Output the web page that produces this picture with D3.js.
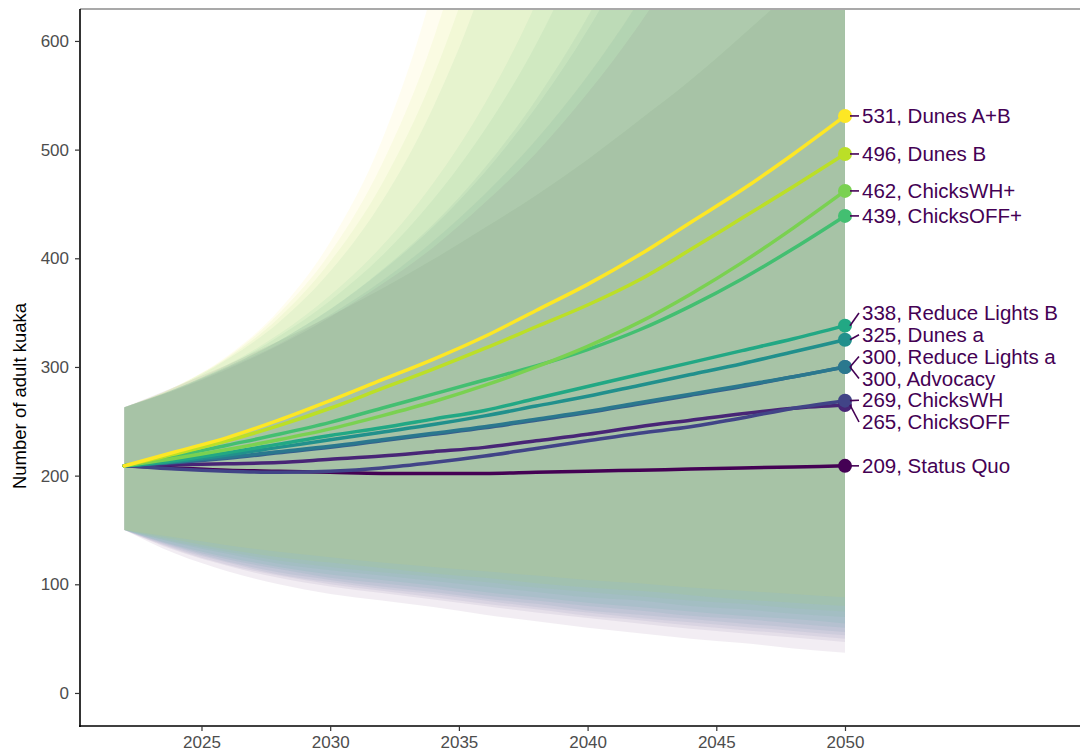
<!DOCTYPE html>
<html><head><meta charset="utf-8">
<script src="https://cdn.jsdelivr.net/npm/d3@7"></script>
<style>body{margin:0;background:#fff} svg{display:block} text{font-family:"Liberation Sans",Arial,Helvetica,sans-serif}</style>
</head><body><svg id="c" width="1080" height="755"></svg>
<script>
// ---- data ----
const years = [2022,2024,2026,2028,2030,2032,2034,2036,2038,2040,2042,2044,2046,2048,2050];
const scenarios = ["Status Quo","ChicksOFF","ChicksWH","Advocacy","Reduce Lights a","Dunes a","Reduce Lights B","ChicksOFF+","ChicksWH+","Dunes B","Dunes A+B"];
const colors = ["#440154","#482576","#414487","#35608D","#2A788E","#21908C","#22A884","#43BF71","#7AD151","#BBDF27","#FDE725"];

// median trajectories
const sqMed   = [209,207,205,204,203,202,202,202,203,204,205,206,207,208,209];
const offMed  = [209,210,211,212,215,218,222,226,232,238,245,251,257,262,265];
const whMed   = [209,206,204,203,204,207,212,218,225,232,239,245,253,262,269];
const advMed  = [209,212,216,221,226,232,238,244,251,258,266,274,282,291,300];
const rlaMed  = [209,213,217,222,227,233,239,245,252,259,267,275,283,291,300];
const daMed   = [209,213,219,226,233,240,247,255,264,273,283,293,303,314,325];
const rlbMed  = [209,214,221,229,237,244,252,260,271,282,293,304,315,326,338];
const offpMed = [209,218,228,238,249,262,275,288,301,316,334,356,381,409,439];
const whpMed  = [209,216,224,233,243,255,268,283,300,319,341,367,396,428,462];
const dbMed   = [209,220,232,246,262,280,298,317,337,357,380,408,437,466,496];
const abMed   = [209,222,235,251,269,288,307,328,352,376,403,433,463,496,531];

// lower bounds
const sqLo   = [150,128,112,100,91,85,79,72,66,60,55,50,46,41,37];
const offLo  = [150,131,117,106,98,92,86,80,74,69,64,59,55,51,47];
const whLo   = [150,132,118,108,100,94,88,82,77,71,67,62,58,54,50];
const advLo  = [150,133,120,109,102,96,91,85,79,74,69,65,61,57,53];
const rlaLo  = [150,134,121,111,104,98,93,87,82,76,72,68,64,60,56];
const daLo   = [150,135,123,114,106,101,96,90,85,80,76,71,68,64,60];
const rlbLo  = [150,136,125,116,109,104,99,93,88,83,79,75,71,68,64];
const offpLo = [150,138,128,119,113,108,103,98,93,88,85,80,77,73,70];
const whpLo  = [150,139,130,122,116,111,107,102,97,93,89,85,82,78,75];
const dbLo   = [150,141,132,125,120,115,110,106,101,97,94,90,86,83,80];
const abLo   = [150,143,136,130,125,120,116,112,108,104,101,97,94,91,88];

// upper bounds
const sqHi   = [263,282,302,324,347,372,399,428,458,491,527,564,605,648,695];
const offHi  = [263,279,298,320,346,376,410,451,497,552,615,688,773,870,980];
const whHi   = [263,279,299,321,348,379,416,459,509,568,637,719,814,930,1060];
const advHi  = [263,280,300,324,353,388,429,479,539,610,695,797,920,1060,1230];
const rlaHi  = [263,280,300,324,353,389,431,483,546,622,713,824,960,1120,1310];
const daHi   = [263,280,301,328,361,402,454,518,597,697,821,980,1180,1420,1720];
const rlbHi  = [263,280,302,330,366,411,469,542,635,753,903,1100,1350,1650,2000];
const offpHi = [263,281,307,341,388,452,539,657,819,1050,1350,1750,2250,2900,3700];
const whpHi  = [263,282,308,345,397,468,567,705,896,1150,1500,2000,2600,3400,4500];
const dbHi   = [263,282,309,349,405,486,601,767,1004,1350,1850,2500,3400,4600,6200];
const abHi   = [263,282,310,352,415,508,649,857,1169,1600,2300,3300,4800,7000,10000];

const yTicks = [0,100,200,300,400,500,600];
const xTicks = [2025,2030,2035,2040,2045,2050];

const meds = [sqMed,offMed,whMed,advMed,rlaMed,daMed,rlbMed,offpMed,whpMed,dbMed,abMed];
const los  = [sqLo,offLo,whLo,advLo,rlaLo,daLo,rlbLo,offpLo,whpLo,dbLo,abLo];
const his  = [sqHi,offHi,whHi,advHi,rlaHi,daHi,rlbHi,offpHi,whpHi,dbHi,abHi];

const series = scenarios.map((name,i)=>({
  name, color: colors[i],
  pts: years.map((yr,j)=>({year:yr, med:meds[i][j], lo:los[i][j], hi:his[i][j]}))
}));

// ---- layout ----
const svg = d3.select("#c");
const x = d3.scaleLinear().domain([2020.28, 2059.13]).range([80,1080]);
const y = d3.scaleLinear().domain([-30.4, 629.4]).range([726, 9]);

svg.append("defs").append("clipPath").attr("id","clip")
  .append("rect").attr("x",80).attr("y",9).attr("width",1000).attr("height",717);

const plot = svg.append("g").attr("clip-path","url(#clip)");

const area = d3.area().x(d=>x(d.year)).y0(d=>y(d.lo)).y1(d=>y(d.hi)).curve(d3.curveMonotoneX);
plot.selectAll("path.rib").data(series).join("path").attr("class","rib")
  .attr("d",d=>area(d.pts)).attr("fill",d=>d.color).attr("fill-opacity",0.07);

const line = d3.line().x(d=>x(d.year)).y(d=>y(d.med)).curve(d3.curveMonotoneX);
plot.selectAll("path.ln").data(series).join("path").attr("class","ln")
  .attr("d",d=>line(d.pts)).attr("fill","none").attr("stroke",d=>d.color)
  .attr("stroke-width",3.5).attr("stroke-linejoin","round").attr("stroke-linecap","round");

plot.selectAll("circle.end").data(series).join("circle").attr("class","end")
  .attr("cx",d=>x(d.pts[d.pts.length-1].year)).attr("cy",d=>y(d.pts[d.pts.length-1].med))
  .attr("r",7).attr("fill",d=>d.color);

// ---- labels with simple repel ----
const gap = 21.8;
const labs = series.map(s=>{const v=s.pts[s.pts.length-1].med; return {s, v, want:y(v)};})
  .sort((a,b)=>a.want-b.want || (a.s.name==="Reduce Lights a"?-1:1));
let clusters = labs.map(l=>({items:[l], center:l.want}));
let merged = true;
while(merged){
  merged=false;
  for(let i=1;i<clusters.length;i++){
    const a=clusters[i-1], b=clusters[i];
    const aBot=a.center+(a.items.length-1)/2*gap, bTop=b.center-(b.items.length-1)/2*gap;
    if(bTop-aBot<gap){
      const items=a.items.concat(b.items);
      const c={items, center:d3.mean(items,d=>d.want)};
      clusters.splice(i-1,2,c); merged=true; break;
    }
  }
}
clusters.forEach(c=>c.items.forEach((l,i)=>{l.ly=c.center+(i-(c.items.length-1)/2)*gap;}));

const xEnd = x(2050);
const lg = svg.append("g");
labs.forEach(l=>{
  lg.append("line").attr("x1",xEnd+5).attr("y1",l.want).attr("x2",xEnd+14).attr("y2",l.ly)
    .attr("stroke","#440154").attr("stroke-width",1.6);
  lg.append("text").attr("x",xEnd+17).attr("y",l.ly).attr("dy","0.35em")
    .attr("font-size",20.5).attr("fill","#440154").text(`${l.v}, ${l.s.name}`);
});

// ---- axes ----
const ax = svg.append("g");
ax.append("line").attr("x1",80).attr("x2",1080).attr("y1",9).attr("y2",9).attr("stroke","#a9a9a9").attr("stroke-width",2);
ax.append("line").attr("x1",80).attr("x2",80).attr("y1",9).attr("y2",727).attr("stroke","#000").attr("stroke-width",1.6);
ax.append("line").attr("x1",79).attr("x2",1080).attr("y1",726).attr("y2",726).attr("stroke","#000").attr("stroke-width",1.6);

const yAx = svg.append("g").attr("transform","translate(80,0)")
  .call(d3.axisLeft(y).tickValues(yTicks).tickSize(5).tickSizeOuter(0).tickPadding(6));
const xAx = svg.append("g").attr("transform","translate(0,726)")
  .call(d3.axisBottom(x).tickValues(xTicks).tickFormat(d3.format("d")).tickSize(5).tickSizeOuter(0).tickPadding(5));
[yAx,xAx].forEach(g=>{
  g.select(".domain").remove();
  g.selectAll(".tick line").attr("stroke","#333").attr("stroke-width",1.2);
  g.selectAll(".tick text").attr("fill","#4d4d4d").attr("font-size",17)
   .attr("font-family","'Liberation Sans',Arial,sans-serif");
});

svg.append("text").attr("transform","translate(26,396) rotate(-90)")
  .attr("text-anchor","middle").attr("font-size",18.5).attr("fill","#000")
  .text("Number of adult kuaka");
</script></body></html>
